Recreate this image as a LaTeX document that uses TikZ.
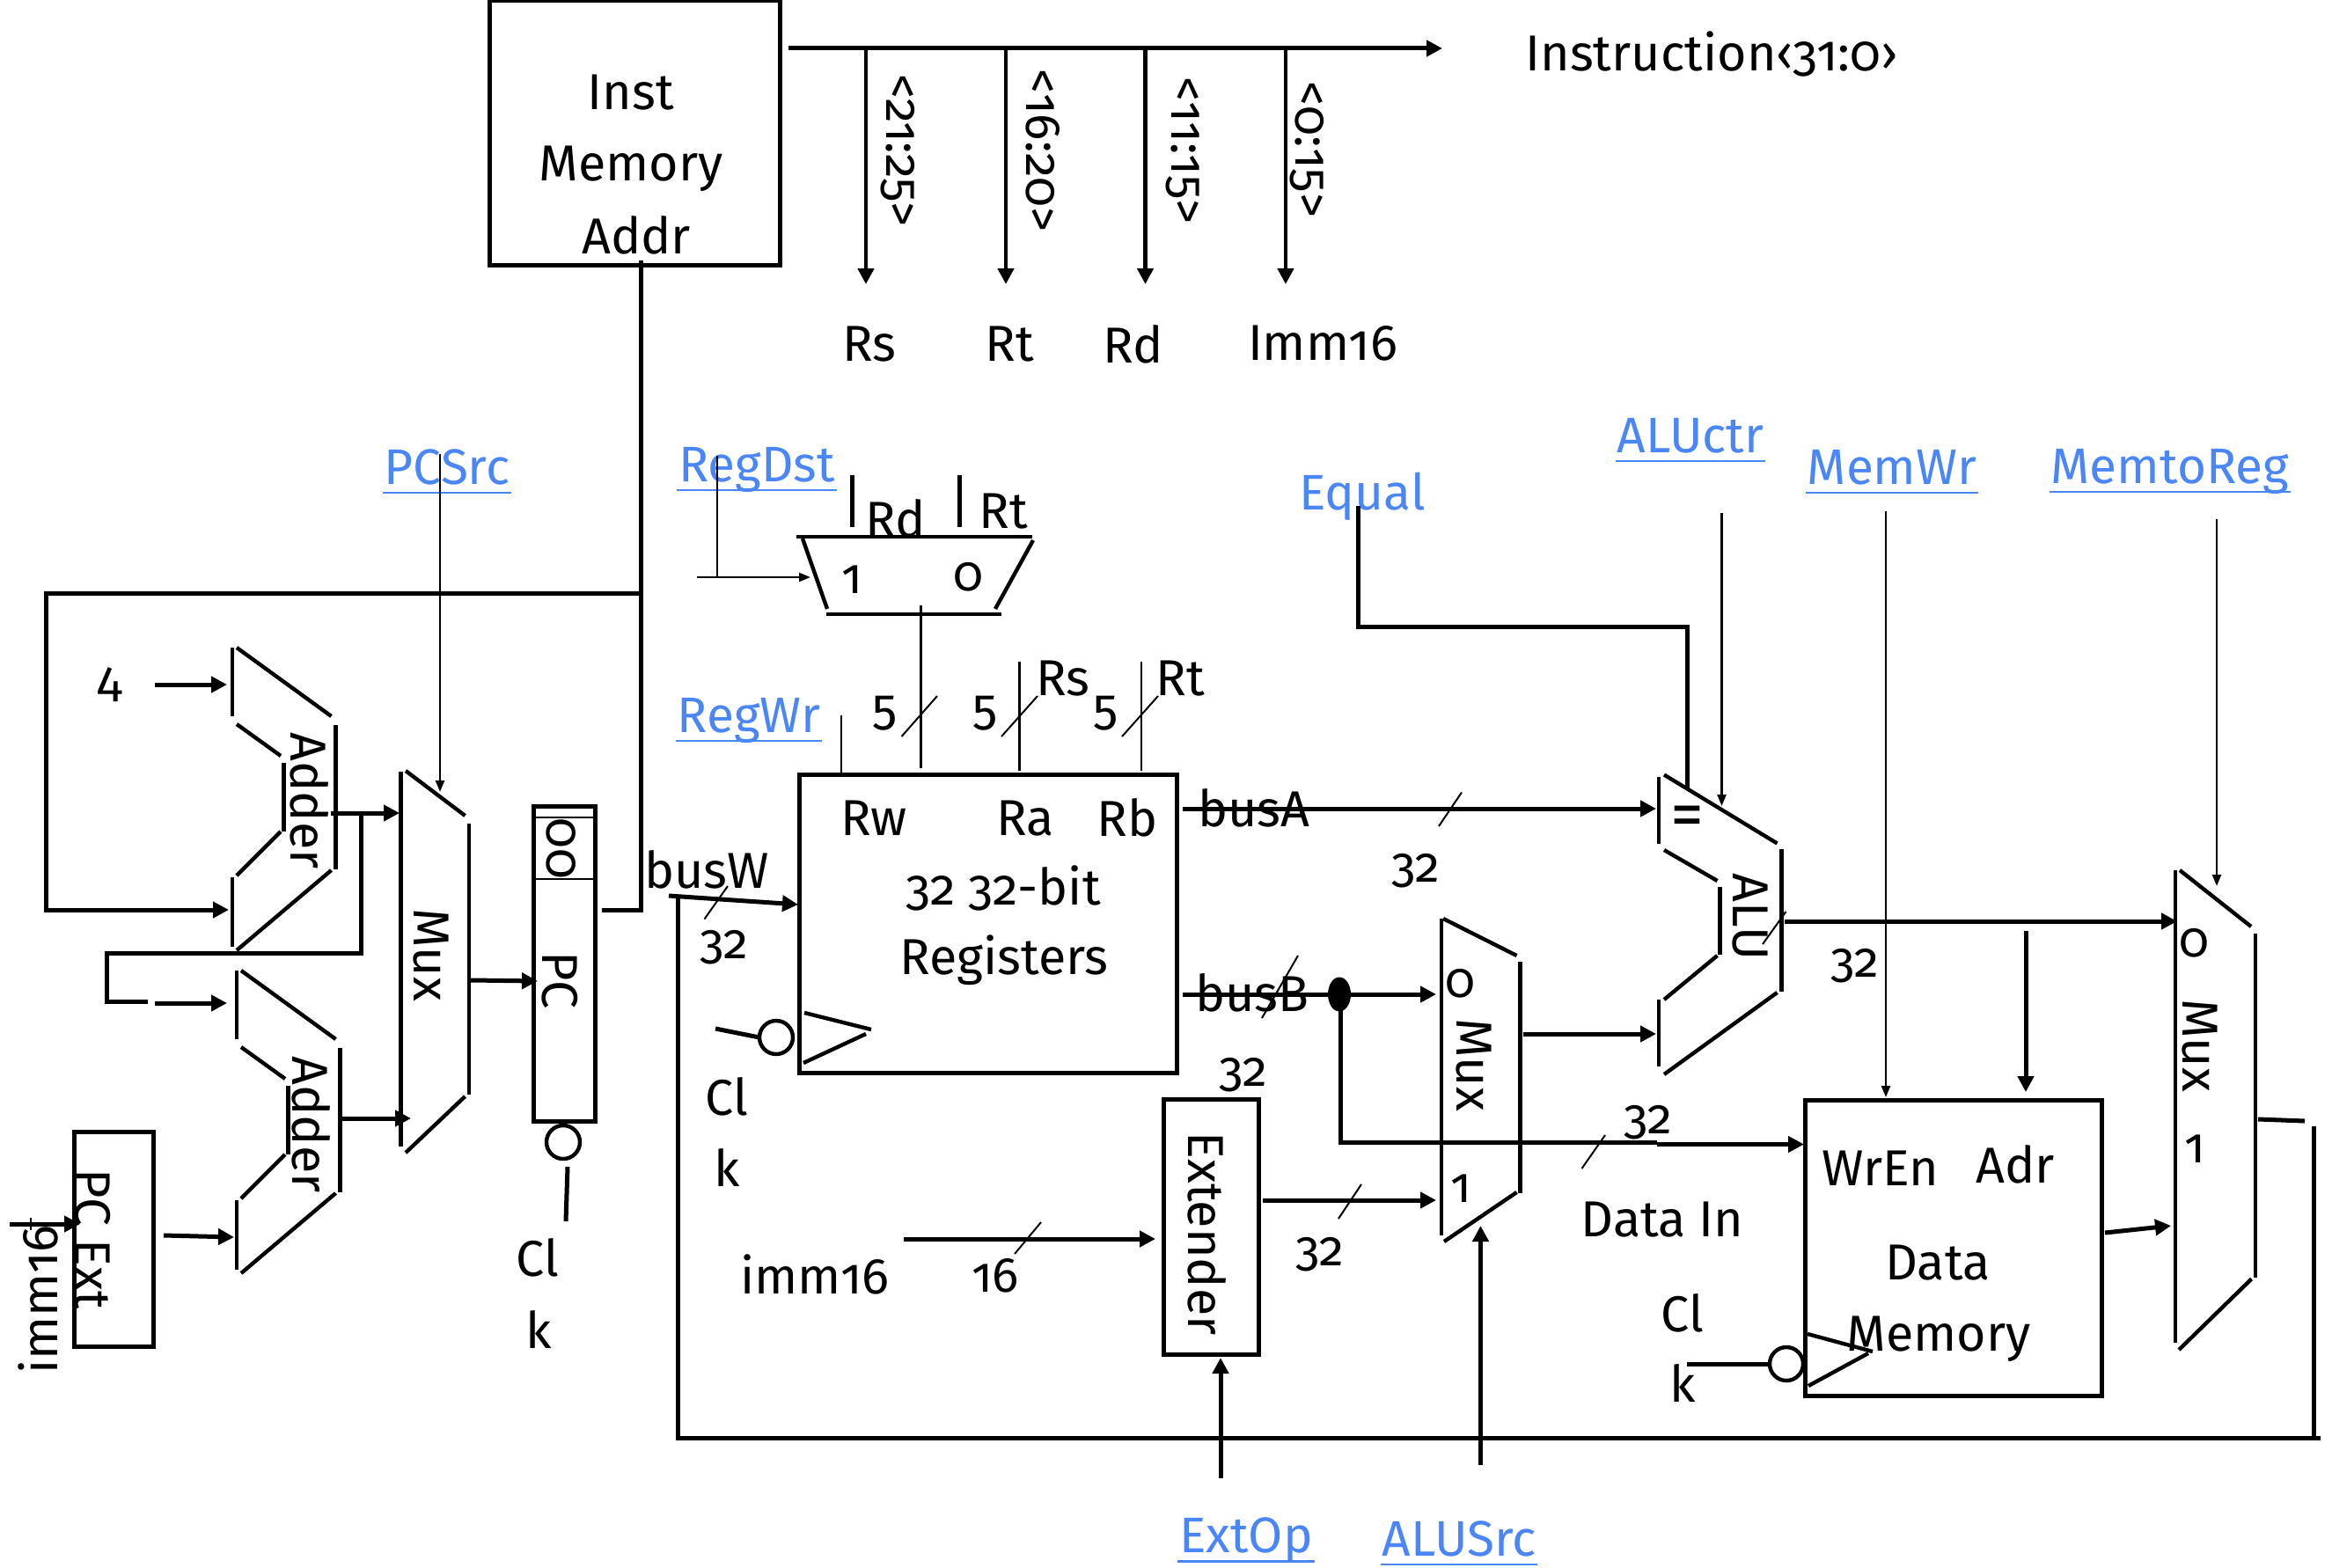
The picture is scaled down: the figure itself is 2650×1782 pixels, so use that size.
\documentclass[tikz,border=0pt]{standalone}
\usepackage{fontspec}
\setmainfont[Numbers=OldStyle]{Fira Sans}
\usetikzlibrary{arrows.meta,shapes.geometric}
\definecolor{linkblue}{HTML}{4A86F7}
\newcommand{\ublue}[1]{\setbox0=\hbox{#1}\rlap{\kern-1pt\vrule width\dimexpr\wd0+2pt\relax height -4.2pt depth 5.4pt}\box0}
\tikzset{
  txt/.style={inner sep=0pt,outer sep=0pt,font=\fontsize{28.7}{32}\selectfont},
  small/.style={txt,font=\fontsize{28}{30}\selectfont},
  vtxt/.style={txt,rotate=-90},
  ctrl/.style={inner sep=0pt,outer sep=0pt,text=linkblue,font=\fontsize{28.4}{32}\selectfont},
  heavy/.style={line width=2.5pt},
  medium/.style={line width=2.3pt},
  thin line/.style={line width=1.2pt},
  boxn/.style={draw,line width=2.5pt,inner sep=0pt,outer sep=0pt},
  clockn/.style={circle,draw,line width=2.2pt,minimum size=19pt,inner sep=0pt,outer sep=0pt},
  arr/.style={-{Triangle[length=9pt,width=9pt]}},
  thinarr/.style={-{Triangle[length=6.5pt,width=5pt]}},
  slash/.style={line width=1pt},
}
\begin{document}
\begin{tikzpicture}[x=.5pt,y=-.5pt,line cap=butt]
\useasboundingbox (0,0) rectangle (2650,1782);
% ---------- text
\node[txt] (instr) at (1945,61) {Instruction‹31:0›};
\node[txt] (t1) at (717,105) {Inst};
\node[txt] (t2) at (717,192) {Memory};
\node[txt] (t3) at (723,267) {Addr};
\node[small,rotate=-90] (b1) at (1020,171) {<21:25>};
\node[small,rotate=-90] (b2) at (1185,171) {<16:20>};
\node[small,rotate=-90] (b3) at (1344,171) {<11:15>};
\node[small,rotate=-90] (b4) at (1485,170) {<0:15>};
\node[txt] (rs) at (988,391) {Rs};
\node[txt] (rt) at (1147,391) {Rt};
\node[txt] (rd) at (1288,391) {Rd};
\node[txt] (imm) at (1503,390) {Imm16};
\node[ctrl] (pcsrc) at (508,536) {\ublue{PCSrc}};
\node[ctrl] (regdst) at (860,534) {\ublue{RegDst}};
\node[ctrl] (regwr) at (851,819) {\ublue{RegWr}};
\node[ctrl] (equal) at (1548,564) {Equal};
\node[ctrl] (aluctr) at (1921,500) {\ublue{ALUctr}};
\node[ctrl] (memwr) at (2150,536) {\ublue{MemWr}};
\node[ctrl] (memtoreg) at (2466,536) {\ublue{MemtoReg}};
\node[ctrl] (extop) at (1416,1751) {\ublue{ExtOp}};
\node[ctrl] (alusrc) at (1658,1754) {\ublue{ALUSrc}};
\node[txt] (rd2) at (1018,589) {Rd};
\node[txt] (rt2) at (1140,581) {Rt};
\node[small] (m1) at (968,659) {1};
\node[small] (m0) at (1100,656) {0};
\node[txt] (five1) at (1006,811) {5};
\node[txt] (five2) at (1120,811) {5};
\node[txt] (five3) at (1257,811) {5};
\node[txt] (rs2) at (1208,771) {Rs};
\node[txt] (rt3) at (1341,771) {Rt};
\node[txt] (rw) at (993,930) {Rw};
\node[txt] (ra) at (1165,930) {Ra};
\node[txt] (rb) at (1281,929) {Rb};
\node[txt] (r32) at (1140,1009) {32 32-bit};
\node[txt] (regs t) at (1141,1091) {Registers};
\node[txt] (busw) at (803,988) {busW};
\node[small] (n32w) at (823,1077) {32};
\node[txt] (busa) at (1425,918) {busA};
\node[txt] (busb) at (1423,1128) {busB};
\node[small] (n32a) at (1609,990) {32};
\node[small] (n32e) at (1413,1222) {32};
\node[small] (n32m) at (1500,1426) {32};
\node[small] (n32d) at (1873,1276) {32};
\node[small] (n32o) at (2108,1098) {32};
\node[txt] (dataIn) at (1889,1386) {Data In};
\node[txt] (imm2) at (926,1448) {imm16};
\node[small] (n16) at (1131,1450) {16};
\node[txt] (four) at (125,778) {4};
\node[vtxt] (add1) at (352,910) {Adder};
\node[vtxt] (add2) at (354,1278) {Adder};
\node[vtxt] (muxA) at (490,1085) {Mux};
\node[vtxt] (pct) at (636,1114) {PC};
\node[vtxt] (zz) at (638,964) {00};
\node[vtxt] (pcext) at (105,1408) {PC Ext};
\node[txt,rotate=90] (imm3) at (43,1477) {imm16};
\node[txt] (cl1) at (611,1429) {Cl};
\node[txt] (k1) at (612,1511) {k};
\node[txt] (cl2) at (826,1246) {Cl};
\node[txt] (k2) at (826,1327) {k};
\node[txt] (cl3) at (1912,1492) {Cl};
\node[txt] (k3) at (1912,1572) {k};
\node[vtxt] (extt) at (1372,1402) {Extender};
\node[small] (m20) at (1659,1118) {0};
\node[small] (m21) at (1660,1351) {1};
\node[vtxt] (muxB) at (1675,1210) {Mux};
\node[txt,font=\fontsize{38}{40}\selectfont] (eq) at (1917,934) {=};
\node[vtxt] (alut) at (1989,1042) {ALU};
\node[txt] (wren) at (2137,1328) {WrEn};
\node[txt] (adr) at (2290,1323) {Adr};
\node[txt] (dat) at (2202,1435) {Data};
\node[txt] (mem) at (2203,1522) {Memory};
\node[small] (m30) at (2493,1072) {0};
\node[small] (m31) at (2494,1306) {1};
\node[vtxt] (muxC) at (2500,1188) {Mux};
% ---------- boxes
\node[boxn,minimum width=165pt,minimum height=150pt] (imem) at (721,151) {};
\node[boxn,minimum width=214.5pt,minimum height=169.5pt] (regs) at (1123,1049.5) {};
\node[boxn,minimum width=35pt,minimum height=179pt] (pc) at (641,1095) {};
\node[boxn,minimum width=45pt,minimum height=122pt] (pcx) at (129,1408) {};
\node[boxn,minimum width=54pt,minimum height=145pt] (ext) at (1376,1394) {};
\node[boxn,minimum width=168.5pt,minimum height=168pt] (dmem) at (2219.5,1418) {};
\node[clockn] (ck1) at (640,1298) {};
\node[clockn] (ck2) at (882,1179) {};
\node[clockn] (ck3) at (2030,1550) {};
\node[ellipse,fill=black,inner sep=0pt,outer sep=0pt,minimum width=13pt,minimum height=19.5pt] (dot) at (1522,1130) {};
% ---------- shapes
\foreach \dx/\dy in {0/0,5/367}{
\begin{scope}[shift={(\dx,\dy)},line width=2.2pt]
\draw (264,736) -- (264,814);
\draw (269,736) -- (376.5,814);
\draw (269,823) -- (319,859);
\draw (322.5,867) -- (322.5,945);
\draw (319,945) -- (269,995);
\draw (264,997) -- (264,1076);
\draw (269,1080) -- (376.5,989);
\draw (381.5,824) -- (381.5,988);
\end{scope}}
\begin{scope}[line width=2.2pt]
\draw (455.5,877) -- (455.5,1303);
\draw (461,876) -- (528.5,927);
\draw (533,936) -- (533,1244);
\draw (461,1310) -- (528.5,1246);
\draw (1638,1044) -- (1638,1404);
\draw (1640,1044) -- (1723.5,1086);
\draw (1727.5,1093) -- (1727.5,1356);
\draw (1641,1411) -- (1723.5,1355);
\draw (1885,883) -- (1885,959);
\draw (1891,880.5) -- (2019.5,958.5);
\draw (1891,966) -- (1951.5,1001);
\draw (1954.5,1008) -- (1954.5,1085);
\draw (1951.5,1086) -- (1891,1136);
\draw (1885,1136) -- (1885,1212);
\draw (1891,1221) -- (2019.5,1128);
\draw (2024.5,965) -- (2024.5,1127);
\draw (2472,989) -- (2472,1526);
\draw (2477,989) -- (2558,1053);
\draw (2563,1061) -- (2563,1452);
\draw (2476,1534) -- (2558.5,1453.5);
\draw (904.5,610) -- (1173,610);
\draw (912,612) -- (940,692);
\draw (1174,614) -- (1131,692);
\draw (939,698) -- (1138,698);
\draw (914,1151) -- (990,1170);
\draw (913,1208) -- (984,1175);
\draw (2054,1516) -- (2128,1536);
\draw (2055,1575) -- (2123,1538);
\end{scope}
\draw[line width=.9pt] (606,929) -- (676,929) (606,999) -- (676,999);
% ---------- coordinates for free connector ends
\coordinate (a4s) at (176,778); \coordinate (a4e) at (258,778);
\coordinate (lp1) at (728,674); \coordinate (lp2) at (52,674);
\coordinate (lp3) at (52,1034); \coordinate (lp4) at (260,1034);
\coordinate (lpT) at (728,296); \coordinate (lpB) at (728,1034);
\coordinate (pcO) at (684,1034);
\coordinate (a1o) at (376,924); \coordinate (a1e) at (454,924);
\coordinate (br1) at (410,924); \coordinate (br2) at (410,1083);
\coordinate (br3) at (121,1083); \coordinate (br4) at (121,1138);
\coordinate (br5) at (168,1138);
\coordinate (a2is) at (176,1140); \coordinate (a2ie) at (258,1140);
\coordinate (a2o) at (388,1271); \coordinate (a2e) at (467,1271);
\coordinate (pxo) at (186,1404); \coordinate (pxe) at (266,1406);
\coordinate (ims) at (11,1391); \coordinate (ime) at (91,1391);
\coordinate (imt) at (35,1398); \coordinate (imtt) at (35,1384);
\coordinate (mxo) at (535,1114); \coordinate (mxe) at (611,1115);
\coordinate (psS) at (500,516); \coordinate (psE) at (500,900);
\coordinate (ck1a) at (645,1326); \coordinate (ck1b) at (643,1388);
\coordinate (insS) at (896,55); \coordinate (insE) at (1639,55);
\foreach \n/\x in {i/984,j/1143,k/1301.5,l/1461}{
  \coordinate (\n s) at (\x,55); \coordinate (\n e) at (\x,323);}
\coordinate (rdS) at (815,518); \coordinate (rdC) at (815,656);
\coordinate (rdA) at (792,656); \coordinate (rdE) at (921,656);
\coordinate (l1a) at (968,540); \coordinate (l1b) at (968,599);
\coordinate (l2a) at (1090.5,540); \coordinate (l2b) at (1090.5,599);
\coordinate (mo1) at (1046.5,688); \coordinate (mo2) at (1046.5,873);
\coordinate (rw1) at (956,813); \coordinate (rw2) at (956,878);
\coordinate (ra1) at (1158.5,752); \coordinate (ra2) at (1158.5,876);
\coordinate (rb1) at (1297,752); \coordinate (rb2) at (1297,876);
\coordinate (bwS) at (760,1018); \coordinate (bwE) at (907,1028);
\coordinate (bw1) at (770,1020); \coordinate (bw2) at (770,1634);
\coordinate (bot) at (2637,1634);
\coordinate (bw3) at (2629.5,1280); \coordinate (bw4) at (2629.5,1634);
\coordinate (m3o) at (2566,1272); \coordinate (m3e) at (2619,1274);
\coordinate (baS) at (1344,919); \coordinate (baE) at (1882,919);
\coordinate (bbS) at (1344,1130); \coordinate (bbE) at (1632,1130);
\coordinate (dw1) at (1523,1130); \coordinate (dw2) at (1523,1298);
\coordinate (dw3) at (1883,1298); \coordinate (dw4) at (1883,1300.5);
\coordinate (dw5) at (2050,1300.5);
\coordinate (m2o) at (1731,1175); \coordinate (m2e) at (1882,1175);
\coordinate (exoS) at (1435,1364); \coordinate (exoE) at (1632,1364);
\coordinate (imS) at (1027,1408); \coordinate (imE) at (1313,1408);
\coordinate (eoS) at (1387,1680); \coordinate (eoE) at (1387,1543);
\coordinate (asS) at (1682.5,1665); \coordinate (asE) at (1682.5,1393);
\coordinate (eq1) at (1543,575); \coordinate (eq2) at (1543,712);
\coordinate (eq3) at (1917,712); \coordinate (eq4) at (1917,896);
\coordinate (acS) at (1956.5,583); \coordinate (acE) at (1956.5,916);
\coordinate (mwS) at (2143,581); \coordinate (mwE) at (2143,1247);
\coordinate (adS) at (2302,1058); \coordinate (adE) at (2302,1241);
\coordinate (alS) at (2028,1047); \coordinate (alE) at (2474,1047);
\coordinate (meS) at (2392,1401); \coordinate (meE) at (2467,1393);
\coordinate (mrS) at (2519,590); \coordinate (mrE) at (2519,1007);
\coordinate (ck2a) at (813,1169); \coordinate (ck3a) at (1917,1550);
% ---------- connectors
\draw[heavy,arr] (a4s) -- (a4e);
\draw[heavy] (lpT) -- (lpB) -- (pcO);
\draw[heavy,arr] (lp1) -- (lp2) -- (lp3) -- (lp4);
\draw[heavy,arr] (a1o) -- (a1e);
\draw[heavy] (br1) -- (br2) -- (br3) -- (br4) -- (br5);
\draw[heavy,arr] (a2is) -- (a2ie);
\draw[heavy,arr] (a2o) -- (a2e);
\draw[heavy,arr] (pxo) -- (pxe);
\draw[heavy,arr] (ims) -- (ime);
\draw[line width=1.4pt] (imtt) -- (imt);
\draw[heavy,arr] (mxo) -- (mxe);
\draw[thin line,thinarr] (psS) -- (psE);
\draw[heavy] (ck1a) -- (ck1b);
\draw[heavy,arr] (insS) -- (insE);
\foreach \n in {i,j,k,l}{\draw[medium,arr] (\n s) -- (\n e);}
\draw[thin line] (rdS) -- (rdC);
\draw[thin line,thinarr] (rdA) -- (rdE);
\draw[heavy] (l1a) -- (l1b);
\draw[heavy] (l2a) -- (l2b);
\draw[thin line] (mo1) -- (mo2);
\draw[thin line] (rw1) -- (rw2);
\draw[thin line] (ra1) -- (ra2);
\draw[thin line] (rb1) -- (rb2);
\draw[heavy,arr] (bwS) -- (bwE);
\draw[heavy] (bw1) -- (bw2) -- (bot);
\draw[heavy] (bw3) -- (bw4);
\draw[heavy] (m3o) -- (m3e);
\draw[heavy,arr] (baS) -- (baE);
\draw[heavy,arr] (bbS) -- (bbE);
\draw[heavy] (dw1) -- (dw2) -- (dw3);
\draw[heavy,arr] (dw4) -- (dw5);
\draw[heavy,arr] (m2o) -- (m2e);
\draw[heavy,arr] (exoS) -- (exoE);
\draw[heavy,arr] (imS) -- (imE);
\draw[heavy,arr] (eoS) -- (eoE);
\draw[heavy,arr] (asS) -- (asE);
\draw[heavy] (eq1) -- (eq2) -- (eq3) -- (eq4);
\draw[thin line,thinarr] (acS) -- (acE);
\draw[thin line,thinarr] (mwS) -- (mwE);
\draw[heavy,arr] (adS) -- (adE);
\draw[heavy,arr] (alS) -- (alE);
\draw[heavy,arr] (meS) -- (meE);
\draw[thin line,thinarr] (mrS) -- (mrE);
\draw[heavy] (ck2a) -- (ck2.west);
\draw[heavy] (ck3a) -- (ck3.west);
% ---------- bus slashes
\draw[slash] (1024.5,837) -- (1065,791);
\draw[slash] (1138,837) -- (1179,791);
\draw[slash] (1275,837) -- (1316,791);
\draw[slash] (827,1007) -- (800.5,1044.5);
\draw[slash] (1635,939) -- (1661,900.5);
\draw[slash] (1434,1157) -- (1475,1086);
\draw[slash] (2003,1073) -- (2029.5,1036);
\draw[slash] (1797.5,1328) -- (1824,1290);
\draw[slash] (1521,1385) -- (1547,1346);
\draw[slash] (1153,1425) -- (1183,1389);
\end{tikzpicture}
\end{document}
